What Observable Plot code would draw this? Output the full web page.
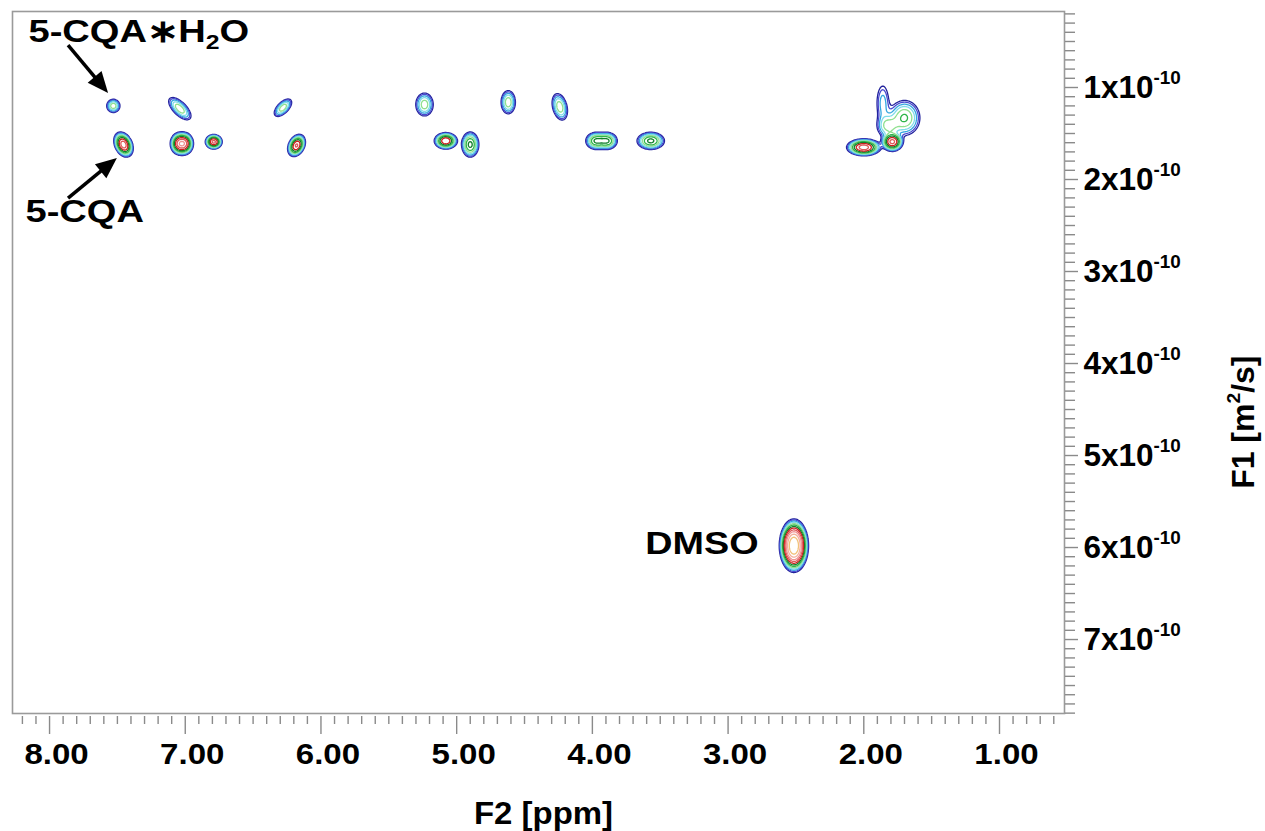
<!DOCTYPE html>
<html>
<head>
<meta charset="utf-8">
<script src="https://cdn.jsdelivr.net/npm/d3@7"></script>
<script src="https://cdn.jsdelivr.net/npm/@observablehq/plot@0.6"></script>
<style>
  html, body { margin: 0; padding: 0; background: #fff; }
  #chart svg { display: block; }
</style>
</head>
<body>
<div id="chart"></div>
<script>
// ---------------- data ----------------
// Cross peaks of the DOSY map: F2 chemical shift (ppm), F1 diffusion (x1e-10 m²/s),
// relative height, line widths (sigma) in ppm and in 1e-10 m²/s, and tilt (correlation).
const peakPpm      = [7.53, 7.04, 6.28, 5.237, 4.62, 4.24, 7.455, 7.045, 7.005, 6.79, 6.18, 5.08, 4.90, 3.973, 3.892, 3.57, 2.00, 1.79, 1.86, 1.70, 1.82, 2.515];
const peakD        = [1.20, 1.23, 1.22, 1.185, 1.16, 1.21, 1.62, 1.61, 1.61, 1.59, 1.63, 1.58, 1.62, 1.58, 1.58, 1.58, 1.65, 1.59, 1.17, 1.33, 1.42, 5.98];
const peakHeight   = [0.26, 0.26, 0.26, 0.25, 0.26, 0.26, 1.00, 0.80, 0.80, 0.90, 0.85, 0.80, 0.45, 0.42, 0.42, 0.45, 1.00, 0.90, 0.12, 0.30, 0.22, 3.5];
const peakWidthPpm = [0.0269, 0.0453, 0.0354, 0.0359, 0.0291, 0.0314, 0.0294, 0.028, 0.028, 0.026, 0.0277, 0.0363, 0.0304, 0.0368, 0.0368, 0.0483, 0.052, 0.0334, 0.032, 0.060, 0.045, 0.037];
const peakWidthD   = [0.0397, 0.0667, 0.0523, 0.0695, 0.0695, 0.0794, 0.0561, 0.0511, 0.0511, 0.0332, 0.0511, 0.0383, 0.0656, 0.0449, 0.0449, 0.0449, 0.038, 0.0437, 0.14, 0.10, 0.069, 0.10];
const peakTilt     = [0, -0.65, 0.6, 0, 0, -0.3, -0.3, 0, 0, 0, 0.3, 0, 0, 0, 0, 0, 0, 0, 0, 0, 0, 0];

// contour levels and their colours
const levels      = [0.05, 0.07, 0.1, 0.14, 0.2, 0.28, 0.4, 0.56, 0.8, 1.1, 1.6, 2.3];
const levelColors = ["#23239c", "#4a4ad0", "#35a6e0", "#7fdcea", "#90e090", "#2fb54a", "#0f7f2a", "#cc2020", "#e05a5a", "#f09494", "#f4b09c", "#f2c27c"];

// axes
const xDomain = [8.273, 0.521];
const yDomain = [0.174, 7.804];
const xMajor = [8, 7, 6, 5, 4, 3, 2, 1];
const xMinor = d3.range(6, 83).map(i => i / 10).filter(v => !Number.isInteger(v));
const yMajor = [1, 2, 3, 4, 5, 6, 7];
const yMinor = d3.range(2, 79).map(i => i / 10).filter(v => !Number.isInteger(v));

// annotations
const annLabels = ["5-CQA\u2217H_{2}O", "5-CQA"];
const annPpm    = [8.155, 8.177];
const annD      = [0.391, 2.348];
const dmsoLabel = ["DMSO"];
const dmsoPpm   = [2.775];
const dmsoD     = [5.957];
const arrowFromPpm = [7.86, 7.86];
const arrowFromD   = [0.544, 2.207];
const arrowToPpm   = [7.565, 7.50];
const arrowToD     = [1.065, 1.772];

// ---------------- spectrum surface from the peak table ----------------
function intensity(ppm, d) {
  let s = 0;
  for (let i = 0; i < peakPpm.length; ++i) {
    const u = (ppm - peakPpm[i]) / peakWidthPpm[i];
    if (u > 7 || u < -7) continue;
    const v = (d - peakD[i]) / peakWidthD[i];
    if (v > 7 || v < -7) continue;
    const r = peakTilt[i];
    s += peakHeight[i] * Math.exp(-(u * u - 2 * r * u * v + v * v) / (2 * (1 - r * r)));
  }
  return s;
}

function arrows(index, scales) {
  const g = d3.create("svg:g").attr("aria-label", "arrows");
  for (let i = 0; i < arrowFromPpm.length; ++i) {
    const x1 = scales.x(arrowFromPpm[i]), y1 = scales.y(arrowFromD[i]);
    const x2 = scales.x(arrowToPpm[i]), y2 = scales.y(arrowToD[i]);
    const a = Math.atan2(y2 - y1, x2 - x1);
    const L = 21, W = 9;
    const bx = x2 - L * Math.cos(a), by = y2 - L * Math.sin(a);
    g.append("line").attr("x1", x1).attr("y1", y1).attr("x2", bx + Math.cos(a)).attr("y2", by + Math.sin(a))
      .attr("stroke", "#000").attr("stroke-width", 3.5);
    const px = -Math.sin(a) * W, py = Math.cos(a) * W;
    g.append("path").attr("d", `M${x2},${y2}L${bx + px},${by + py}L${bx - px},${by - py}Z`).attr("fill", "#000");
  }
  return g.node();
}

const plot = Plot.plot({
  width: 1265,
  height: 831,
  marginLeft: 12,
  marginRight: 201,
  marginTop: 11,
  marginBottom: 118,
  x: {domain: xDomain, label: null},
  y: {domain: yDomain, reverse: true, label: null},
  color: {type: "ordinal", domain: levels, range: levelColors},
  style: {fontFamily: "'Liberation Sans', Arial, Helvetica, sans-serif", background: "#fff", color: "#000"},
  marks: [
    Plot.contour({
      value: intensity,
      x1: xDomain[0], x2: xDomain[1], y1: yDomain[0], y2: yDomain[1],
      thresholds: levels,
      stroke: "value",
      fill: "none",
      strokeWidth: 1.3,
      pixelSize: 1
    }),
    Plot.frame({stroke: "#9a9a9a", strokeWidth: 1.6}),
    // x axis
    Plot.axisX({anchor: "bottom", ticks: xMinor, tickSize: 8, tickFormat: () => "", stroke: "#8a8a8a", strokeWidth: 1.4, dy: 3, label: null}),
    Plot.axisX({anchor: "bottom", ticks: xMajor, tickSize: 18, tickFormat: () => "", stroke: "#8a8a8a", strokeWidth: 1.4, dy: 3, label: null}),
    Plot.axisX({anchor: "bottom", ticks: xMajor, tickSize: 0, tickPadding: 30, tickFormat: d3.format(".2f"),
      fontSize: 29.5, fontWeight: "bold", fill: "#000", dx: 7, label: null}),
    // y axis (right)
    Plot.axisY({anchor: "right", ticks: yMinor, tickSize: 10, tickFormat: () => "", stroke: "#8a8a8a", strokeWidth: 1.4, label: null}),
    Plot.axisY({anchor: "right", ticks: yMajor, tickSize: 13, tickPadding: 6, tickFormat: d => `${d}x10^{-10}`,
      stroke: "#8a8a8a", strokeWidth: 1.4, fill: "#000", fontSize: 31.5, fontWeight: "bold", label: null}),
    // axis titles
    Plot.text(["F2 [ppm]"], {frameAnchor: "bottom", lineAnchor: "middle", dx: 5, dy: 101, fontSize: 30.5, fontWeight: "bold"}),
    Plot.text(["F1 [m^{2}/s]"], {frameAnchor: "right", lineAnchor: "middle", dx: 179, dy: -7, rotate: -90, fontSize: 32, fontWeight: "bold"}),
    // annotations
    Plot.text(annLabels, {x: annPpm, y: annD, text: annLabels, textAnchor: "start", fontSize: 32, fontWeight: "bold"}),
    Plot.text(dmsoLabel, {x: dmsoPpm, y: dmsoD, text: dmsoLabel, textAnchor: "end", fontSize: 32, fontWeight: "bold"}),
    arrows
  ]
});

document.getElementById("chart").append(plot);

// horizontal stretch of the wide lettering of the original (by text content)
const stretchBy = new Map([
  ...annLabels.map(s => [s, 1.19]),
  ...dmsoLabel.map(s => [s, 1.18]),
  ...xMajor.map(v => [d3.format(".2f")(v), 1.12]),
  ["F2 [ppm]", 1.08]
]);
for (const t of plot.querySelectorAll("text")) {
  const k = stretchBy.get(t.textContent);
  if (k) {
    const tr = t.getAttribute("transform") || "";
    t.setAttribute("transform", `${tr} scale(${k},1)`);
  }
}

// rich text: ^{...} superscript, _{...} subscript
const NS = "http://www.w3.org/2000/svg";
for (const t of plot.querySelectorAll("text")) {
  const s = t.textContent;
  if (!/[\^_]\{/.test(s)) continue;
  const fs = parseFloat(getComputedStyle(t).fontSize) || 30;
  const parts = s.split(/(\^\{[^}]*\}|_\{[^}]*\})/).filter(p => p);
  t.textContent = "";
  let offset = 0;
  for (const p of parts) {
    const sp = document.createElementNS(NS, "tspan");
    let target = 0, txt = p;
    if (p.startsWith("^{")) { target = -0.42 * fs; txt = p.slice(2, -1); sp.setAttribute("font-size", 0.6 * fs); }
    else if (p.startsWith("_{")) { target = 0.22 * fs; txt = p.slice(2, -1); sp.setAttribute("font-size", 0.65 * fs); }
    const dy = target - offset;
    if (dy) sp.setAttribute("dy", dy);
    offset = target;
    sp.textContent = txt;
    t.appendChild(sp);
  }
}
</script>
</body>
</html>
